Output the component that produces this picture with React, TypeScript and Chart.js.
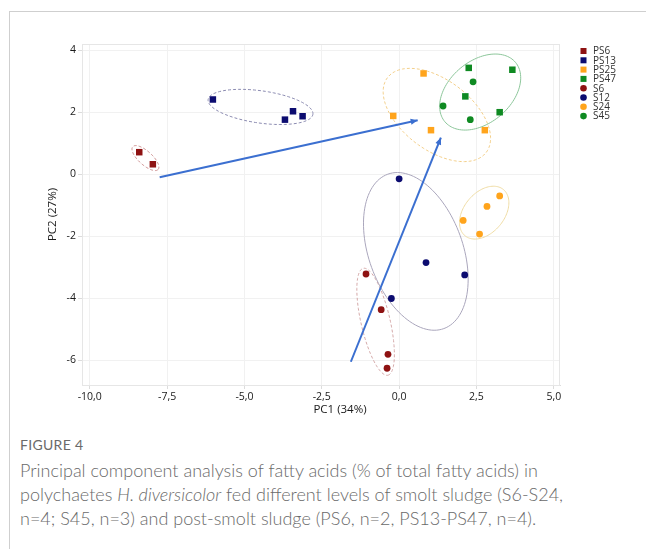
import React, { useEffect, useRef } from "react";
import { Chart, registerables } from "chart.js";

Chart.register(...registerables);

// ---------- data ----------
const groups = ["PS6", "PS13", "PS25", "PS47", "S6", "S12", "S24", "S45"];
const groupColors = ["#8e1212", "#0c0c70", "#ffa41c", "#0f8a22", "#8e1212", "#0c0c70", "#ffa41c", "#0f8a22"];
const groupShapes = ["rect", "rect", "rect", "rect", "circle", "circle", "circle", "circle"];

const PS6_PC1 = [-8.4, -7.96];
const PS6_PC2 = [0.71, 0.32];
const PS13_PC1 = [-6.02, -3.43, -3.69, -3.12];
const PS13_PC2 = [2.41, 2.03, 1.76, 1.87];
const PS25_PC1 = [0.79, -0.19, 1.03, 2.77];
const PS25_PC2 = [3.25, 1.88, 1.42, 1.42];
const PS47_PC1 = [2.25, 3.66, 2.14, 3.25];
const PS47_PC2 = [3.43, 3.37, 2.51, 2.0];
const S6_PC1 = [-1.07, -0.58, -0.36, -0.39];
const S6_PC2 = [-3.22, -4.37, -5.81, -6.26];
const S12_PC1 = [0.0, 0.87, 2.12, -0.25];
const S12_PC2 = [-0.15, -2.85, -3.25, -4.01];
const S24_PC1 = [3.25, 2.84, 2.07, 2.6];
const S24_PC2 = [-0.7, -1.04, -1.49, -1.93];
const S45_PC1 = [2.39, 1.42, 2.3];
const S45_PC2 = [2.98, 2.2, 1.76];

const groupPC1 = [PS6_PC1, PS13_PC1, PS25_PC1, PS47_PC1, S6_PC1, S12_PC1, S24_PC1, S45_PC1];
const groupPC2 = [PS6_PC2, PS13_PC2, PS25_PC2, PS47_PC2, S6_PC2, S12_PC2, S24_PC2, S45_PC2];

// confidence ellipses (data units)
const ellipseGroups = ["PS6", "PS13", "PS25", "PS47", "S6", "S12", "S24"];
const ellipseCenterPC1 = [-8.2, -4.48, 1.22, 2.62, -0.76, 0.54, 2.75];
const ellipseCenterPC2 = [0.52, 2.17, 1.91, 2.65, -4.76, -2.49, -1.24];
const ellipseSemiMajor = [0.55, 1.71, 2.0, 1.49, 1.77, 2.65, 0.97];
const ellipseSemiMinor = [0.22, 0.52, 1.13, 1.0, 0.47, 1.52, 0.65];
const ellipseAngleDeg = [-42, -8, -37, 40, -77, -70, 50];
const ellipseColors = ["#c98888", "#8a8ab0", "#f3cf8a", "#8cc69a", "#d4a8a8", "#aaa6bc", "#efdca4"];
const ellipseDashed = [true, true, true, false, true, false, false];

// trajectory arrows
const arrowStartPC1 = [-7.74, -1.56];
const arrowStartPC2 = [-0.1, -6.05];
const arrowEndPC1 = [0.6, 1.35];
const arrowEndPC2 = [1.74, 1.18];

const xTicks = [-10, -7.5, -5, -2.5, 0, 2.5, 5];
const yTicks = [-6, -4, -2, 0, 2, 4];

const FONT = "'Open Sans', 'Noto Sans', sans-serif";

export default function App() {
  const ref = useRef<HTMLCanvasElement | null>(null);

  useEffect(() => {
    if (!ref.current) return;

    const pointSets: any[] = groups.map((g, i) => ({
      label: g,
      type: "scatter",
      data: groupPC1[i].map((x, k) => ({ x, y: groupPC2[i][k] })),
      backgroundColor: groupColors[i],
      borderColor: groupColors[i],
      pointStyle: groupShapes[i],
      pointRadius: groupShapes[i] === "rect" ? 4.6 : 3.4,
      pointBorderWidth: 0,
      order: 1,
    }));

    const arrowSets: any[] = arrowStartPC1.map((sx, i) => ({
      label: "arrow" + i,
      type: "line",
      data: [
        { x: sx, y: arrowStartPC2[i] },
        { x: arrowEndPC1[i], y: arrowEndPC2[i] },
      ],
      borderColor: "#3b6fd0",
      borderWidth: 2,
      pointRadius: 0,
      fill: false,
      order: 2,
      isArrow: true,
    }));

    const ellipsePlugin = {
      id: "ellipses",
      beforeDatasetsDraw(chart: any) {
        const { ctx, scales } = chart;
        const xs = scales.x, ys = scales.y;
        ctx.save();
        ellipseGroups.forEach((g, i) => {
          const a = ellipseSemiMajor[i], b = ellipseSemiMinor[i];
          const th = (ellipseAngleDeg[i] * Math.PI) / 180;
          const cx = ellipseCenterPC1[i], cy = ellipseCenterPC2[i];
          ctx.beginPath();
          const N = 120;
          for (let k = 0; k <= N; k++) {
            const t = (k / N) * Math.PI * 2;
            const ex = a * Math.cos(t), ey = b * Math.sin(t);
            const dx = cx + ex * Math.cos(th) - ey * Math.sin(th);
            const dy = cy + ex * Math.sin(th) + ey * Math.cos(th);
            const px = xs.getPixelForValue(dx), py = ys.getPixelForValue(dy);
            if (k === 0) ctx.moveTo(px, py);
            else ctx.lineTo(px, py);
          }
          ctx.strokeStyle = ellipseColors[i];
          ctx.lineWidth = 1;
          ctx.setLineDash(ellipseDashed[i] ? [3, 2] : []);
          ctx.stroke();
        });
        ctx.restore();
      },
      afterDatasetsDraw(chart: any) {
        const { ctx } = chart;
        ctx.save();
        chart.data.datasets.forEach((ds: any, di: number) => {
          if (!ds.isArrow) return;
          const meta = chart.getDatasetMeta(di);
          const p0 = meta.data[0], p1 = meta.data[1];
          const ang = Math.atan2(p1.y - p0.y, p1.x - p0.x);
          const L = 7, W = 3;
          ctx.beginPath();
          ctx.moveTo(p1.x, p1.y);
          ctx.lineTo(p1.x - L * Math.cos(ang) + W * Math.sin(ang), p1.y - L * Math.sin(ang) - W * Math.cos(ang));
          ctx.lineTo(p1.x - L * Math.cos(ang) - W * Math.sin(ang), p1.y - L * Math.sin(ang) + W * Math.cos(ang));
          ctx.closePath();
          ctx.fillStyle = ds.borderColor;
          ctx.fill();
        });
        ctx.restore();
      },
      afterDraw(chart: any) {
        const { ctx, chartArea } = chart;
        ctx.save();
        // frame
        ctx.strokeStyle = "#e6e6e6";
        ctx.lineWidth = 1;
        ctx.strokeRect(chartArea.left + 0.5, chartArea.top + 0.5, chartArea.right - chartArea.left - 1, chartArea.bottom - chartArea.top);
        // axis titles
        ctx.fillStyle = "#1a1a1a";
        ctx.font = `11.5px ${FONT}`;
        ctx.textAlign = "center";
        ctx.textBaseline = "middle";
        ctx.fillText("PC1 (34%)", 340, 410);
        ctx.save();
        ctx.translate(53, (chartArea.top + chartArea.bottom) / 2);
        ctx.rotate(-Math.PI / 2);
        ctx.fillText("PC2 (27%)", 0, 0);
        ctx.restore();
        // legend
        ctx.font = `10px ${FONT}`;
        ctx.textAlign = "left";
        chart.data.datasets.forEach((ds: any, di: number) => {
          if (ds.isArrow) return;
          const yy = 51 + di * 9.3;
          ctx.fillStyle = ds.backgroundColor;
          if (ds.pointStyle === "rect") {
            ctx.fillRect(580.5, yy - 3, 6, 6);
          } else {
            ctx.beginPath();
            ctx.arc(583.5, yy, 3.3, 0, Math.PI * 2);
            ctx.fill();
          }
          ctx.fillStyle = "#333";
          ctx.fillText(ds.label, 593, yy + 0.5);
        });
        ctx.restore();
      },
    };

    const chart = new Chart(ref.current, {
      type: "scatter",
      data: { datasets: [...pointSets, ...arrowSets] },
      options: {
        animation: false,
        responsive: false,
        maintainAspectRatio: false,
        layout: { padding: { top: 44, right: 86, bottom: 0, left: 0 } },
        plugins: { legend: { display: false }, tooltip: { enabled: false } },
        scales: {
          x: {
            type: "linear",
            min: -10.25,
            max: 5.2,
            afterFit: (s: any) => { s.height = 35; },
            afterBuildTicks: (s: any) => { s.ticks = xTicks.map((v) => ({ value: v })); },
            ticks: {
              color: "#1a1a1a",
              font: { family: FONT, size: 10.5 },
              padding: 2,
              maxRotation: 0,
              callback: (v: any) => Number(v).toFixed(1).replace(".", ","),
            },
            grid: { color: "#f1f1f1", tickLength: 4, tickColor: "#dcdcdc" },
            border: { color: "#dcdcdc" },
          },
          y: {
            type: "linear",
            min: -6.8,
            max: 4.2,
            afterFit: (s: any) => { s.width = 82; },
            afterBuildTicks: (s: any) => { s.ticks = yTicks.map((v) => ({ value: v })); },
            ticks: {
              color: "#1a1a1a",
              font: { family: FONT, size: 10.5 },
              padding: 2,
              callback: (v: any) => String(v),
            },
            grid: { color: "#f1f1f1", tickLength: 4, tickColor: "#dcdcdc" },
            border: { color: "#dcdcdc" },
          },
        },
      } as any,
      plugins: [ellipsePlugin],
    });
    return () => chart.destroy();
  }, []);

  return (
    <div style={{ position: "absolute", left: 0, top: 0, width: 646, height: 549, background: "#fff", overflow: "hidden" }}>
      <div style={{ position: "absolute", left: 9, top: 11, right: 0, bottom: 0, borderTop: "1px solid #cfcfcf", borderLeft: "1px solid #cfcfcf" }} />
      <canvas ref={ref} width={646} height={420} style={{ position: "absolute", left: 0, top: 0, width: 646, height: 420 }} />
      <div style={{ position: "absolute", left: 20, top: 436, fontFamily: "Lato, 'Open Sans', sans-serif", color: "#6a6a6a" }}>
        <div style={{ fontSize: 14, letterSpacing: 0.3, lineHeight: "18px" }}>FIGURE 4</div>
        <div style={{ fontSize: 18, lineHeight: "24px", marginTop: 4, fontWeight: 300, width: 626 }}>
          Principal component analysis of fatty acids (% of total fatty acids) in
          <br />
          polychaetes <i>H. diversicolor</i> fed different levels of smolt sludge (S6-S24,
          <br />
          n=4; S45, n=3) and post-smolt sludge (PS6, n=2, PS13-PS47, n=4).
        </div>
      </div>
    </div>
  );
}
